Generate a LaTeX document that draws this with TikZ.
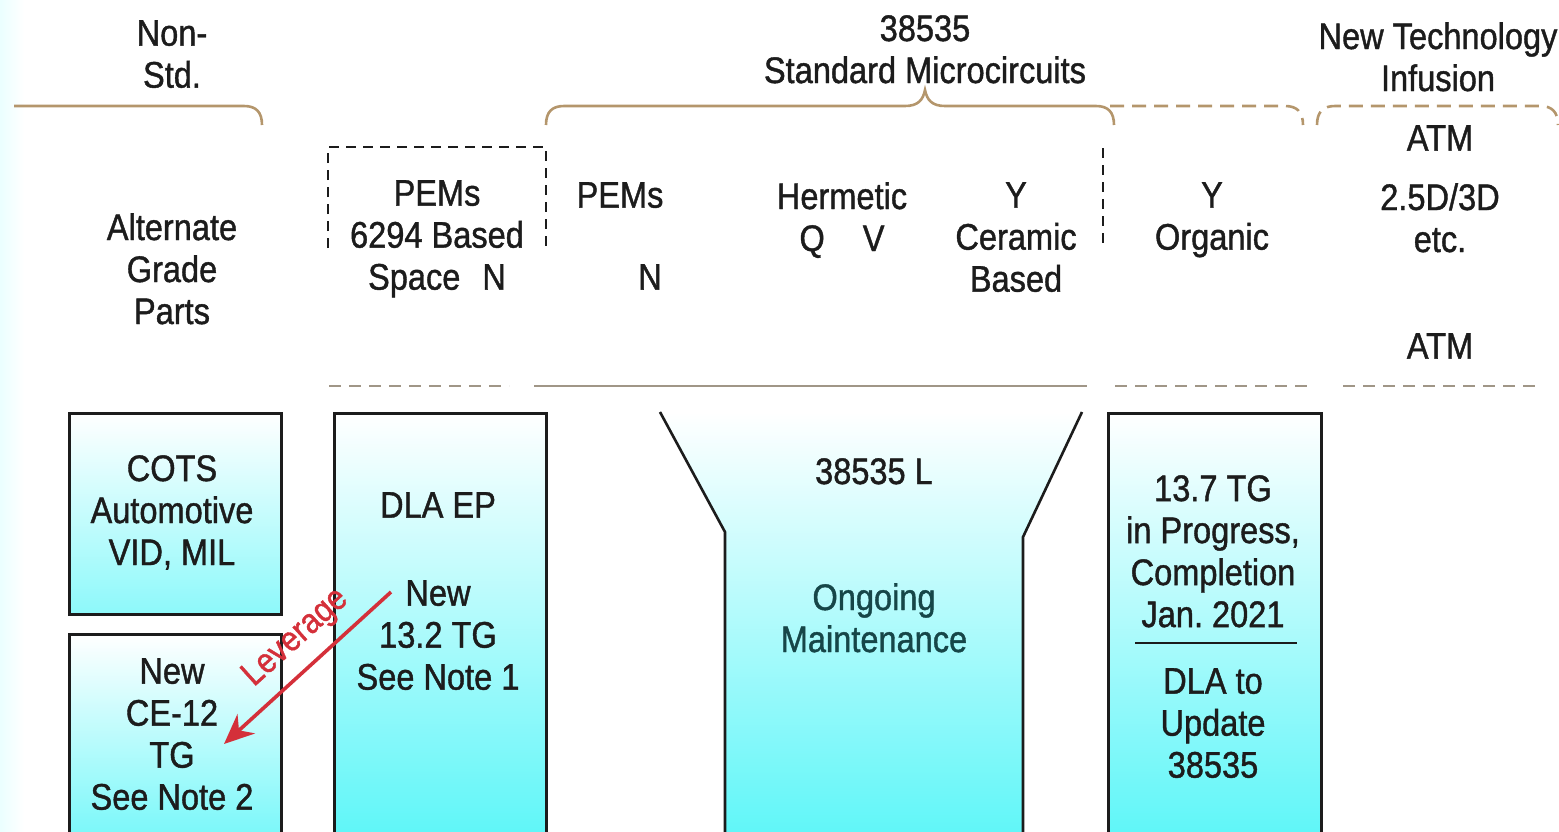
\documentclass[tikz,border=0pt]{standalone}
\usepackage{fontspec}
\setmainfont{Liberation Sans}[FakeStretch=0.88,FakeBold=1.1]
\usetikzlibrary{arrows.meta}
\frenchspacing
\definecolor{bracetan}{RGB}{180,150,108}
\definecolor{sepgray}{RGB}{160,150,135}
\definecolor{inkdark}{RGB}{28,28,28}
\definecolor{tealdark}{RGB}{22,70,72}
\definecolor{boxcyan}{RGB}{92,246,248}
\definecolor{levred}{RGB}{212,48,58}
\tikzset{
  lbl/.style={font=\fontsize{37}{42}\selectfont, text=inkdark, align=center, inner sep=0pt, anchor=north},
  panel/.style={draw=inkdark, line width=2.6pt, top color=white, bottom color=boxcyan, anchor=north west, inner sep=0pt},
  bracket/.style={draw=bracetan, line width=2.6pt},
  dashbracket/.style={bracket, dash pattern=on 14pt off 8pt},
  sepline/.style={draw=sepgray, line width=2.2pt},
  sepdash/.style={sepline, dash pattern=on 12pt off 8pt},
  pemframe/.style={draw=inkdark, line width=2.2pt, dash pattern=on 10pt off 7pt},
  levarrow/.style={->, draw=levred, line width=3.6pt}
}
\begin{document}
\begin{tikzpicture}[x=1pt,y=-1pt,>={Stealth[length=30pt,width=26pt]}]
  \useasboundingbox (0,0) rectangle (1559,831);
  \shade[left color=cyan!8!white, right color=white] (0,0) rectangle (24,831);

  \node[lbl] (nonstd) at (172,20) {Non-\\Std.};
  \node[lbl] (stdmc) at (925,15) {38535\\Standard Microcircuits};
  \node[lbl] (newtech) at (1438,22) {New Technology\\Infusion};

  \draw[bracket] (14,106) -- (244,106) .. controls (256,106) and (262,112) .. (262,125);
  \draw[bracket] (546,125) .. controls (546,112) and (552,106) .. (564,106) -- (905,106)
    .. controls (918,106) and (923,100) .. (925,90) .. controls (927,100) and (932,106) .. (945,106)
    -- (1096,106) .. controls (1108,106) and (1114,112) .. (1114,125);
  \draw[dashbracket] (1110,106) -- (1285,106) .. controls (1297,106) and (1303,112) .. (1303,125);
  \draw[dashbracket] (1317,125) .. controls (1317,112) and (1323,106) .. (1335,106) -- (1540,106)
    .. controls (1552,106) and (1558,112) .. (1558,125);

  \draw[pemframe] (328,248) -- (328,147) -- (546,147) -- (546,248);
  \draw[pemframe] (1103,148) -- (1103,248);

  \node[lbl] (altgrade) at (172,213) {Alternate\\Grade\\Parts};
  \node[lbl] (pemspace) at (437,180) {PEMs\\6294 Based\\Space\hspace{22pt}N};
  \node[lbl] (pemsn) at (620,182) {PEMs};
  \node[lbl] (pemsnn) at (650,264) {N};
  \node[lbl] (hermetic) at (842,182) {Hermetic\\Q\hspace{38pt}V};
  \node[lbl] (ceramic) at (1016,182) {Y\\Ceramic\\Based};
  \node[lbl] (organic) at (1212,182) {Y\\Organic};
  \node[lbl] (atmtop) at (1440,125) {ATM};
  \node[lbl] (stack) at (1440,183) {2.5D/3D\\etc.};
  \node[lbl] (atmlow) at (1440,333) {ATM};

  \draw[sepdash] (329,386) -- (509,386);
  \draw[sepline] (534,386) -- (1087,386);
  \draw[sepdash] (1115,386) -- (1312,386);
  \draw[sepdash] (1343,386) -- (1540,386);

  \node[panel, minimum width=212pt, minimum height=201pt, bottom color=boxcyan!70!white] (cotsbox) at (68,412) {};
  \node[panel, minimum width=212pt, minimum height=210pt, bottom color=boxcyan!85!white] (cebox) at (68,633) {};
  \node[panel, minimum width=212pt, minimum height=430pt] (epbox) at (333,412) {};
  \node[panel, minimum width=213pt, minimum height=430pt] (tgbox) at (1107,412) {};
  \shade[top color=white, bottom color=boxcyan] (660,412) -- (725,532) -- (725,845) -- (1023,845) -- (1023,537) -- (1082,412) -- cycle;
  \draw[draw=inkdark, line width=2.6pt] (660,412) -- (725,532) -- (725,845);
  \draw[draw=inkdark, line width=2.6pt] (1082,412) -- (1023,537) -- (1023,845);

  \node[lbl] (cots) at (172,455) {COTS\\Automotive\\VID, MIL};
  \node[lbl] (cetg) at (172,658) {New\\CE-12\\TG\\See Note 2};
  \node[lbl] (dlaep) at (438,492) {DLA EP};
  \node[lbl] (dlanew) at (438,580) {New\\13.2 TG\\See Note 1};
  \node[lbl] (levell) at (874,458) {38535 L};
  \node[lbl, text=tealdark] (ongoing) at (874,583) {Ongoing\\Maintenance};
  \node[lbl] (tgprog) at (1213,475) {13.7 TG\\in Progress,\\Completion\\Jan. 2021};
  \draw[draw=inkdark, line width=1.4pt] (1135,643) -- (1297,643);
  \node[lbl] (dlaupd) at (1213,668) {DLA to\\Update\\38535};

  \coordinate (levfrom) at (391,592);
  \coordinate (levto) at (224,744);
  \draw[levarrow] (levfrom) -- (levto);
  \node[font=\fontsize{35}{40}\selectfont, text=levred, inner sep=0pt, rotate=42] (levlbl) at (296,638) {Leverage};
\end{tikzpicture}
\end{document}
